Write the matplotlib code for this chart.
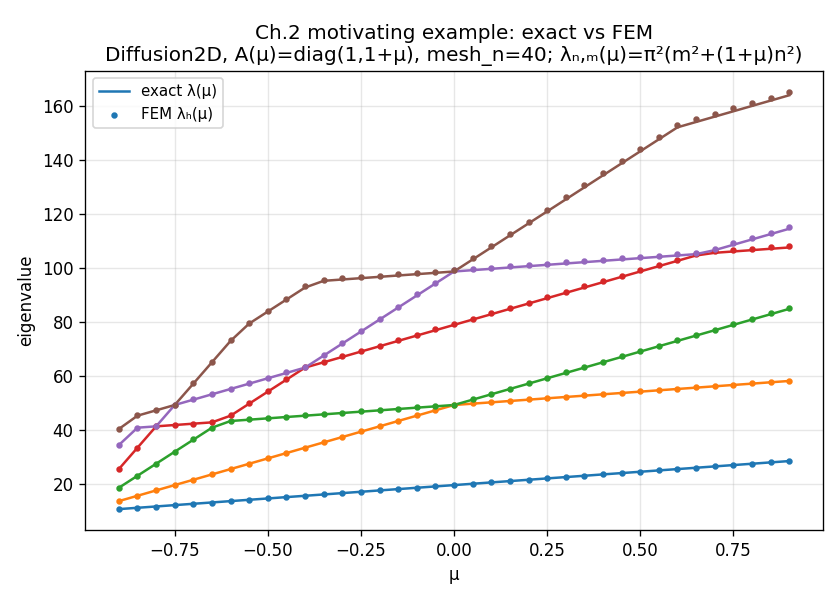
import numpy as np
import matplotlib
matplotlib.use("Agg")
import matplotlib.pyplot as plt

# ---------- data ----------
mu = [-0.90, -0.85, -0.80, -0.75, -0.70, -0.65, -0.60, -0.55, -0.50, -0.45,
      -0.40, -0.35, -0.30, -0.25, -0.20, -0.15, -0.10, -0.05, 0.00, 0.05,
      0.10, 0.15, 0.20, 0.25, 0.30, 0.35, 0.40, 0.45, 0.50, 0.55,
      0.60, 0.65, 0.70, 0.75, 0.80, 0.85, 0.90]

# exact eigenvalues, sorted, modes 1..6
exact1 = [10.86, 11.35, 11.84, 12.34, 12.83, 13.32, 13.82, 14.31, 14.80, 15.30,
          15.79, 16.28, 16.78, 17.27, 17.77, 18.26, 18.75, 19.25, 19.74, 20.23,
          20.73, 21.22, 21.71, 22.21, 22.70, 23.19, 23.69, 24.18, 24.67, 25.17,
          25.66, 26.15, 26.65, 27.14, 27.63, 28.13, 28.62]
exact2 = [13.82, 15.79, 17.77, 19.74, 21.71, 23.69, 25.66, 27.63, 29.61, 31.58,
          33.56, 35.53, 37.50, 39.48, 41.45, 43.43, 45.40, 47.37, 49.35, 49.84,
          50.33, 50.83, 51.32, 51.82, 52.31, 52.80, 53.30, 53.79, 54.28, 54.78,
          55.27, 55.76, 56.26, 56.75, 57.24, 57.74, 58.23]
exact3 = [18.75, 23.19, 27.63, 32.08, 36.52, 40.96, 43.43, 43.92, 44.41, 44.91,
          45.40, 45.89, 46.39, 46.88, 47.37, 47.87, 48.36, 48.85, 49.35, 51.32,
          53.30, 55.27, 57.24, 59.22, 61.19, 63.17, 65.14, 67.11, 69.09, 71.06,
          73.04, 75.01, 76.98, 78.96, 80.93, 82.90, 84.88]
exact4 = [25.66, 33.56, 41.45, 41.95, 42.44, 42.93, 45.40, 49.84, 54.28, 58.72,
          63.17, 65.14, 67.11, 69.09, 71.06, 73.04, 75.01, 76.98, 78.96, 80.93,
          82.90, 84.88, 86.85, 88.83, 90.80, 92.77, 94.75, 96.72, 98.70, 100.67,
          102.64, 104.62, 105.60, 106.10, 106.59, 107.09, 107.58]
exact5 = [34.54, 40.96, 41.45, 49.35, 51.32, 53.30, 55.27, 57.24, 59.22, 61.19,
          63.17, 67.61, 72.05, 76.49, 80.93, 85.37, 89.81, 94.25, 98.70, 99.19,
          99.68, 100.18, 100.67, 101.16, 101.66, 102.15, 102.64, 103.14, 103.63, 104.12,
          104.62, 105.11, 106.59, 108.57, 110.54, 112.51, 114.49]
exact6 = [40.47, 45.40, 47.37, 49.35, 57.24, 65.14, 73.04, 79.45, 83.89, 88.33,
          92.77, 95.24, 95.74, 96.23, 96.72, 97.22, 97.71, 98.20, 98.70, 103.14,
          107.58, 112.02, 116.46, 120.90, 125.34, 129.79, 134.23, 138.67, 143.11, 147.55,
          151.99, 153.97, 155.94, 157.91, 159.89, 161.86, 163.84]

# FEM eigenvalues (slightly above exact at the high end)
fem1 = [10.9, 11.4, 11.8, 12.3, 12.8, 13.3, 13.8, 14.3, 14.8, 15.3,
        15.8, 16.3, 16.8, 17.3, 17.8, 18.3, 18.8, 19.3, 19.8, 20.3,
        20.8, 21.2, 21.7, 22.2, 22.7, 23.2, 23.7, 24.2, 24.7, 25.2,
        25.7, 26.2, 26.7, 27.2, 27.7, 28.2, 28.7]
fem2 = [13.8, 15.8, 17.8, 19.8, 21.7, 23.7, 25.7, 27.7, 29.6, 31.6,
        33.6, 35.6, 37.6, 39.6, 41.5, 43.5, 45.5, 47.5, 49.5, 50.0,
        50.4, 50.9, 51.4, 51.9, 52.4, 52.9, 53.4, 53.9, 54.4, 54.9,
        55.4, 55.9, 56.4, 56.9, 57.4, 57.9, 58.4]
fem3 = [18.8, 23.2, 27.7, 32.1, 36.6, 41.0, 43.5, 44.0, 44.5, 45.0,
        45.5, 46.0, 46.5, 47.0, 47.5, 48.0, 48.5, 49.0, 49.5, 51.4,
        53.4, 55.4, 57.4, 59.4, 61.4, 63.4, 65.3, 67.3, 69.3, 71.3,
        73.3, 75.3, 77.2, 79.2, 81.2, 83.2, 85.2]
fem4 = [25.7, 33.6, 41.5, 42.0, 42.5, 43.0, 45.5, 50.0, 54.4, 58.9,
        63.4, 65.3, 67.3, 69.3, 71.3, 73.3, 75.3, 77.3, 79.3, 81.2,
        83.2, 85.2, 87.2, 89.2, 91.2, 93.2, 95.1, 97.1, 99.1, 101.1,
        103.1, 105.1, 106.1, 106.6, 107.1, 107.6, 108.1]
fem5 = [34.6, 41.0, 41.5, 49.5, 51.4, 53.4, 55.4, 57.4, 59.4, 61.4,
        63.4, 67.8, 72.3, 76.8, 81.2, 85.7, 90.2, 94.6, 99.1, 99.6,
        100.1, 100.6, 101.1, 101.6, 102.1, 102.6, 103.1, 103.6, 104.1, 104.6,
        105.1, 105.6, 107.1, 109.1, 111.1, 113.1, 115.1]
fem6 = [40.5, 45.5, 47.5, 49.5, 57.4, 65.3, 73.3, 79.7, 84.2, 88.7,
        93.2, 95.6, 96.2, 96.7, 97.2, 97.7, 98.1, 98.6, 99.1, 103.6,
        108.1, 112.6, 117.1, 121.6, 126.1, 130.6, 135.1, 139.5, 144.0, 148.5,
        153.0, 155.0, 157.0, 159.0, 161.0, 163.0, 165.1]

exact_all = [exact1, exact2, exact3, exact4, exact5, exact6]
fem_all = [fem1, fem2, fem3, fem4, fem5, fem6]
colors = ["C0", "C1", "C2", "C3", "C4", "C5"]

# ---------- figure ----------
fig, ax = plt.subplots(figsize=(7.0, 5.0), dpi=120)
fig.subplots_adjust(left=0.1016, right=0.9794, top=0.8817, bottom=0.1167)

for k, (ex, fe) in enumerate(zip(exact_all, fem_all)):
    ax.plot(mu, ex, color=colors[k], linewidth=1.5,
            label="exact λ(μ)" if k == 0 else None)
    ax.scatter(mu, fe, color=colors[k], s=8, zorder=3,
               label="FEM λₕ(μ)" if k == 0 else None)

ax.set_xlabel("μ")
ax.set_ylabel("eigenvalue")
ax.set_title("Ch.2 motivating example: exact vs FEM\n"
             "Diffusion2D, A(μ)=diag(1,1+μ), mesh_n=40; λₙ,ₘ(μ)=π²(m²+(1+μ)n²)")
ax.grid(True, alpha=0.3)
ax.legend(loc="upper left", fontsize=9)

fig.savefig("out.png", dpi=120)
